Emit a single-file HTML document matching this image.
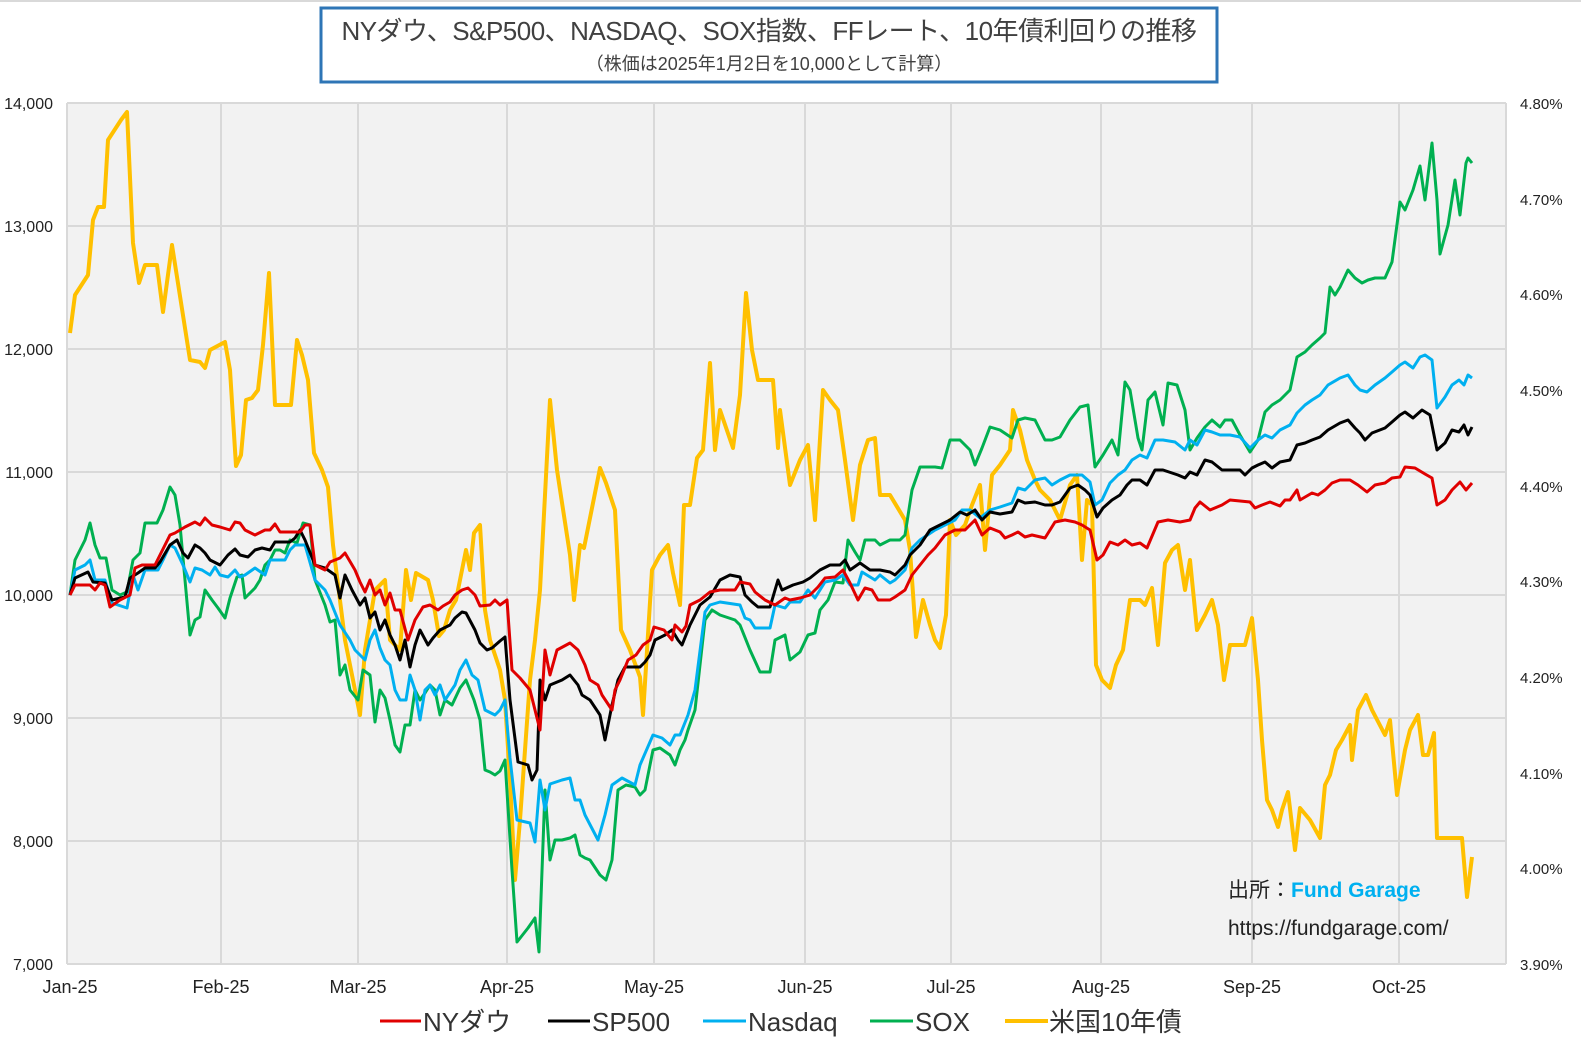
<!DOCTYPE html>
<html><head><meta charset="utf-8"><style>
body{margin:0;background:#fff;}
svg text{font-family:"Liberation Sans","Noto Sans CJK JP",sans-serif;}
</style></head><body>
<svg width="1581" height="1056" xmlns="http://www.w3.org/2000/svg">
<rect width="1581" height="1056" fill="#fff"/>
<line x1="0" y1="1" x2="1581" y2="1" stroke="#d9d9d9" stroke-width="2"/>
<rect x="67" y="103" width="1439" height="861" fill="#f2f2f2"/>
<g stroke="#d9d9d9" stroke-width="2">
<line x1="67" y1="103" x2="1506" y2="103"/><line x1="67" y1="226" x2="1506" y2="226"/><line x1="67" y1="349" x2="1506" y2="349"/><line x1="67" y1="472" x2="1506" y2="472"/><line x1="67" y1="595" x2="1506" y2="595"/><line x1="67" y1="718" x2="1506" y2="718"/><line x1="67" y1="841" x2="1506" y2="841"/><line x1="67" y1="964" x2="1506" y2="964"/>
<line x1="67" y1="103" x2="67" y2="964"/><line x1="221" y1="103" x2="221" y2="964"/><line x1="358" y1="103" x2="358" y2="964"/><line x1="507" y1="103" x2="507" y2="964"/><line x1="654" y1="103" x2="654" y2="964"/><line x1="805" y1="103" x2="805" y2="964"/><line x1="951" y1="103" x2="951" y2="964"/><line x1="1101" y1="103" x2="1101" y2="964"/><line x1="1252" y1="103" x2="1252" y2="964"/><line x1="1399" y1="103" x2="1399" y2="964"/><line x1="1506" y1="103" x2="1506" y2="964"/>
</g>
<g font-size="16" fill="#222" text-anchor="end">
<text x="53" y="109">14,000</text><text x="53" y="232">13,000</text><text x="53" y="355">12,000</text><text x="53" y="478">11,000</text><text x="53" y="601">10,000</text><text x="53" y="724">9,000</text><text x="53" y="847">8,000</text><text x="53" y="970">7,000</text>
</g>
<g font-size="15" fill="#222" text-anchor="start">
<text x="1520" y="109">4.80%</text><text x="1520" y="205">4.70%</text><text x="1520" y="300">4.60%</text><text x="1520" y="396">4.50%</text><text x="1520" y="492">4.40%</text><text x="1520" y="587">4.30%</text><text x="1520" y="683">4.20%</text><text x="1520" y="779">4.10%</text><text x="1520" y="874">4.00%</text><text x="1520" y="970">3.90%</text>
</g>
<g font-size="18" fill="#222" text-anchor="middle">
<text x="70" y="993">Jan-25</text><text x="221" y="993">Feb-25</text><text x="358" y="993">Mar-25</text><text x="507" y="993">Apr-25</text><text x="654" y="993">May-25</text><text x="805" y="993">Jun-25</text><text x="951" y="993">Jul-25</text><text x="1101" y="993">Aug-25</text><text x="1252" y="993">Sep-25</text><text x="1399" y="993">Oct-25</text>
</g>
<g fill="none" stroke-linejoin="round">
<polyline stroke="#ffc000" stroke-width="4" points="70,333 75,295 88,275 93,220 98,207 104,207 108,140 121,120 127,112 133,243 139,283 145,265 157,265 163,312 172,245 190,360 200,362 205,368 210,350 225,342 230,370 236,466 241,455 246,400 252,398 258,390 263,345 269,273 275,405 291,405 297,340 302,355 308,380 314,453 322,470 328,487 333,545 345,640 360,715 365,650 370,620 375,590 385,580 390,640 400,650 406,570 411,600 416,573 428,580 433,600 439,636 444,630 450,610 456,600 466,550 470,570 474,533 480,525 485,610 490,640 500,670 505,700 510,780 515,880 520,820 530,680 535,640 540,590 550,400 557,470 570,555 574,600 580,545 584,548 600,468 606,483 615,510 621,630 630,650 640,677 643,715 652,570 660,555 668,545 673,573 680,605 684,505 690,505 697,458 703,450 710,363 715,450 720,410 733,448 740,395 746,293 752,350 758,380 773,380 778,448 780,410 790,485 800,460 808,445 815,520 823,390 830,400 838,410 845,460 853,520 860,465 868,440 875,438 880,495 890,495 905,520 910,550 916,637 923,600 930,625 935,640 940,648 946,615 950,520 956,535 965,525 972,505 980,485 985,550 992,475 1000,465 1010,450 1013,410 1020,430 1027,460 1035,480 1040,490 1050,500 1060,520 1070,485 1077,475 1082,560 1087,500 1092,505 1096,665 1102,680 1110,688 1116,665 1123,650 1130,600 1140,600 1145,605 1152,588 1158,645 1165,563 1172,550 1178,545 1185,590 1190,560 1197,630 1205,615 1212,600 1218,625 1224,680 1230,645 1245,645 1252,618 1258,680 1262,740 1267,800 1272,810 1278,827 1282,810 1288,792 1295,850 1300,808 1310,820 1320,838 1325,785 1330,775 1336,750 1342,740 1350,725 1352,760 1358,710 1366,695 1372,710 1385,735 1390,720 1397,795 1405,750 1410,730 1418,715 1423,755 1428,755 1434,733 1437,838 1462,838 1467,897 1472,857"/>
<polyline stroke="#00b050" stroke-width="3" points="70,595 75,560 85,540 90,523 95,545 100,558 106,558 112,590 120,595 127,592 133,560 140,553 145,523 157,523 163,510 170,487 175,495 180,525 185,580 190,635 195,620 200,617 205,590 212,600 218,608 225,618 230,598 237,577 242,575 245,598 255,588 260,580 265,565 270,560 275,550 280,550 285,553 290,540 297,543 303,523 310,525 315,580 325,605 330,622 335,620 340,675 345,665 350,690 358,700 363,670 370,675 375,722 380,690 385,698 390,720 395,745 400,752 405,725 410,725 415,690 420,700 425,693 430,685 435,690 440,715 445,700 452,705 460,688 466,680 470,690 474,700 480,720 485,770 490,772 495,775 500,771 505,760 512,870 517,942 528,928 535,918 539,952 545,790 550,860 555,840 562,840 570,838 575,835 580,855 585,858 590,860 600,875 606,880 612,860 618,790 626,785 635,787 640,795 645,790 653,750 660,748 670,755 675,765 680,750 685,740 688,730 695,710 705,620 712,610 720,615 735,620 740,625 750,650 760,672 770,672 775,640 785,635 790,660 800,652 808,635 815,633 820,610 828,600 835,582 843,583 848,540 855,552 860,560 865,540 875,540 880,545 890,540 900,540 905,535 912,490 920,467 935,467 942,468 950,440 960,440 970,450 975,465 982,448 990,427 1000,430 1012,438 1018,420 1025,418 1035,420 1045,440 1052,440 1060,437 1070,420 1080,407 1088,405 1095,467 1103,455 1112,440 1118,455 1125,382 1130,390 1138,438 1142,450 1148,400 1155,392 1163,425 1168,383 1177,385 1185,410 1190,450 1197,438 1205,427 1212,420 1220,427 1225,420 1232,420 1240,435 1250,452 1258,440 1265,412 1272,405 1280,400 1290,390 1297,357 1305,352 1312,345 1320,338 1325,333 1330,287 1335,295 1340,287 1348,270 1355,278 1362,283 1368,280 1375,278 1385,278 1392,262 1400,202 1405,210 1413,190 1420,166 1425,200 1432,143 1437,200 1440,254 1448,225 1455,180 1460,215 1466,163 1468,158 1472,163"/>
<polyline stroke="#00b0f0" stroke-width="3" points="70,595 75,570 85,565 90,560 95,580 105,580 112,603 127,608 133,575 138,590 145,570 158,570 163,560 170,545 175,548 183,565 190,582 195,568 202,570 210,575 215,567 220,575 228,577 235,570 240,577 245,575 255,568 265,575 270,560 285,560 290,550 295,545 305,545 315,580 325,590 330,600 340,625 350,640 355,650 365,660 370,640 375,630 380,648 385,660 390,665 395,690 400,700 406,700 410,675 415,690 420,720 425,690 430,685 435,695 440,685 445,700 455,685 460,670 466,660 472,675 478,680 485,710 495,715 500,710 505,700 510,758 517,820 530,823 535,842 540,780 545,810 550,784 562,780 570,778 575,800 580,800 585,815 598,840 605,815 612,785 622,778 635,785 640,765 653,735 662,738 670,745 675,735 680,735 688,715 695,690 705,612 710,605 720,602 740,605 745,618 750,620 755,628 770,628 775,605 785,608 790,602 800,602 808,590 815,598 825,582 835,580 843,575 850,585 858,585 862,572 875,580 880,575 890,583 895,580 905,570 912,548 920,540 935,530 945,525 955,520 962,510 970,510 980,518 990,510 1000,507 1012,503 1018,488 1025,490 1035,480 1045,478 1052,485 1060,480 1070,475 1082,475 1090,482 1095,505 1102,500 1110,483 1118,475 1125,470 1132,460 1140,455 1147,458 1155,440 1163,440 1175,442 1185,450 1190,440 1197,445 1205,430 1212,432 1220,435 1230,435 1240,437 1250,448 1258,440 1265,435 1272,438 1280,430 1290,425 1297,413 1305,405 1312,400 1320,395 1328,385 1340,378 1348,375 1355,385 1360,390 1367,392 1375,385 1385,378 1392,372 1400,365 1405,362 1413,368 1420,357 1425,355 1432,360 1437,408 1445,397 1452,385 1459,380 1464,385 1468,375 1472,378"/>
<polyline stroke="#000" stroke-width="3" points="70,595 75,578 88,572 93,582 105,583 112,600 125,597 130,578 138,573 145,568 155,568 160,562 170,545 177,540 183,553 188,558 195,545 200,548 205,553 210,560 220,565 228,555 235,549 240,555 248,557 255,550 262,548 270,550 275,542 290,542 295,538 300,530 305,540 315,565 325,568 335,575 340,598 345,575 352,590 360,605 365,598 370,618 375,612 380,630 385,620 390,635 395,645 400,660 405,640 410,667 415,645 420,630 428,645 433,638 440,630 450,625 455,618 462,612 466,613 475,630 480,643 487,650 492,648 500,641 505,637 510,700 518,762 528,765 532,780 537,770 540,680 545,700 550,685 562,680 570,675 578,685 582,695 590,700 600,715 605,740 612,705 618,680 625,667 640,667 645,662 650,655 655,640 665,635 672,630 678,640 682,645 690,625 700,605 710,597 720,580 730,575 740,577 745,595 752,602 758,607 770,607 778,580 782,590 793,585 803,582 810,578 820,570 830,565 840,565 845,560 850,570 860,563 870,570 880,570 890,572 895,575 905,565 910,555 920,545 930,530 940,525 950,520 960,512 967,515 975,510 982,520 990,512 1000,514 1012,512 1018,500 1025,503 1035,502 1045,505 1052,505 1060,502 1070,488 1078,485 1085,490 1090,495 1097,517 1103,508 1112,500 1120,495 1127,485 1132,480 1140,480 1147,485 1155,470 1163,470 1178,475 1185,478 1190,472 1197,475 1205,460 1212,462 1222,470 1240,470 1245,475 1252,468 1258,465 1265,462 1272,468 1280,462 1290,460 1297,445 1305,443 1312,440 1320,437 1328,430 1340,423 1348,420 1355,428 1360,433 1365,440 1372,433 1385,428 1392,422 1400,415 1405,412 1413,418 1422,410 1430,415 1437,450 1445,443 1452,430 1459,432 1464,425 1468,435 1472,427"/>
<polyline stroke="#e00000" stroke-width="3" points="70,595 75,585 90,585 95,590 100,583 105,585 110,607 120,600 130,595 135,568 142,565 155,565 160,555 170,535 175,533 185,527 195,522 200,525 205,518 212,525 220,527 230,530 235,522 240,523 245,530 255,535 265,530 270,530 275,524 280,532 300,532 305,525 310,525 315,565 325,570 330,562 340,558 345,553 355,570 360,582 365,592 370,580 375,595 380,590 385,605 390,593 395,610 400,610 408,640 415,620 423,607 430,605 438,610 443,606 450,602 455,595 462,590 468,588 475,595 480,606 490,605 495,600 500,605 507,600 512,670 520,678 530,690 540,730 545,650 550,675 557,650 570,643 578,650 585,665 590,680 598,685 602,695 612,710 615,690 620,680 628,660 636,655 643,645 650,640 654,627 664,630 672,640 675,625 682,632 686,626 690,605 700,600 710,592 720,590 735,590 740,582 750,584 755,592 765,600 775,605 785,598 790,600 800,598 810,595 818,587 825,578 835,577 843,570 850,583 858,600 865,588 872,590 878,600 890,600 895,597 905,590 912,575 920,565 928,555 935,548 945,535 955,530 965,530 975,520 982,535 990,528 1000,532 1005,538 1012,535 1018,532 1025,537 1032,535 1045,538 1050,530 1055,522 1065,520 1075,522 1082,525 1090,530 1097,560 1103,555 1110,542 1118,545 1125,540 1132,545 1140,543 1147,548 1158,522 1168,520 1180,522 1190,520 1195,508 1200,502 1210,510 1222,505 1230,500 1250,502 1255,508 1262,505 1270,502 1280,506 1285,500 1290,500 1297,490 1300,500 1312,493 1318,495 1325,490 1332,483 1340,480 1350,480 1358,485 1367,492 1375,485 1385,483 1392,478 1400,477 1405,467 1415,468 1425,474 1432,478 1437,505 1445,500 1452,490 1460,482 1466,490 1472,483"/>
</g>
<rect x="321" y="8" width="896" height="74" fill="#fff" stroke="#2e75b6" stroke-width="3"/>
<text x="769" y="40" font-size="26" fill="#404040" text-anchor="middle" letter-spacing="-0.5">NYダウ、S&amp;P500、NASDAQ、SOX指数、FFレート、10年債利回りの推移</text>
<text x="769" y="70" font-size="18" fill="#404040" text-anchor="middle">（株価は2025年1月2日を10,000として計算）</text>
<text x="1228" y="897" font-size="21" fill="#222">出所：<tspan fill="#00b0f0" font-weight="bold">Fund Garage</tspan></text>
<text x="1228" y="935" font-size="21" fill="#222">https://fundgarage.com/</text>
<g stroke-width="3">
<line x1="380" y1="1021" x2="421" y2="1021" stroke="#e00000"/>
<line x1="548" y1="1021" x2="590" y2="1021" stroke="#000"/>
<line x1="703" y1="1021" x2="746" y2="1021" stroke="#00b0f0"/>
<line x1="870" y1="1021" x2="913" y2="1021" stroke="#00b050"/>
<line x1="1005" y1="1021" x2="1048" y2="1021" stroke="#ffc000" stroke-width="4"/>
</g>
<g font-size="26" fill="#333">
<text x="423" y="1031">NYダウ</text><text x="592" y="1031">SP500</text><text x="748" y="1031">Nasdaq</text><text x="915" y="1031">SOX</text><text x="1049" y="1031">米国10年債</text>
</g>
</svg>
</body></html>
